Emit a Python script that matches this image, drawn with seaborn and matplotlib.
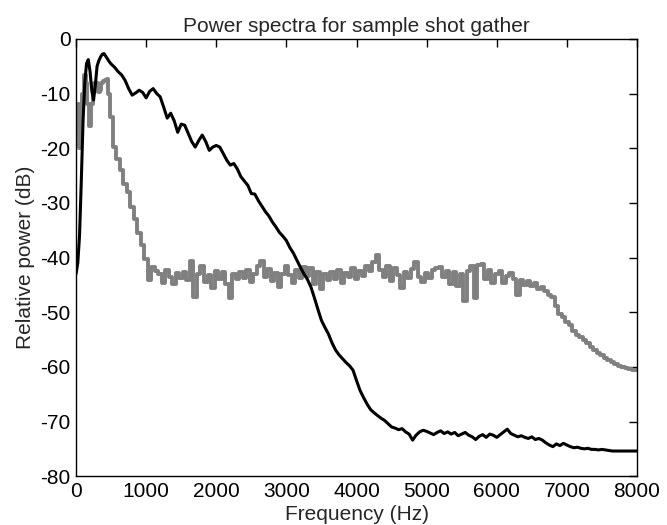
import numpy as np
import pandas as pd
import matplotlib
matplotlib.use("Agg")
import matplotlib.pyplot as plt
import seaborn as sns

# Frequency sampling grid (Hz): fine below 500 Hz, then every 50 Hz
freq = np.concatenate([np.arange(0, 501, 25), np.arange(550, 8001, 50)])

black_db = [
    # 0..500 step 25
    -43, -41, -36, -26, -15, -8, -4.5, -3.8, -6, -9.5, -11.2, -8.5, -5, -4, -3.3, -2.8, -2.7, -3.2, -3.7, -4.2, -4.6,
    # 550..8000 step 50
    -5.2, -6.0, -6.6, -7.6, -9.1, -10.3, -9.9, -9.4, -9.8, -10.8,
    -9.6, -9.1, -10.0, -10.6, -12.5, -14.5, -13.6, -15.0, -17.1, -15.6,
    -15.8, -17.3, -18.8, -19.8, -18.6, -17.6, -18.8, -20.4, -19.8, -19.5,
    -19.8, -21.0, -22.2, -23.1, -22.8, -23.8, -25.2, -26.0, -26.8, -28.3,
    -28.4, -29.6, -30.6, -31.6, -32.4, -33.5, -34.4, -35.4, -36.1, -36.9,
    -38.2, -39.2, -40.5, -41.8, -43.0, -44.0, -45.4, -47.4, -49.5, -51.5,
    -52.8, -54.0, -55.6, -56.9, -57.8, -58.5, -59.2, -59.8, -60.6, -62.5,
    -64.3, -65.6, -66.8, -67.8, -68.4, -68.9, -69.4, -69.8, -70.4, -71.0,
    -71.2, -71.5, -71.3, -71.9, -72.3, -73.4, -72.5, -71.9, -71.6, -71.8,
    -72.1, -72.4, -72.0, -71.7, -72.2, -71.9, -72.3, -72.0, -72.6, -72.3,
    -72.0, -72.5, -72.8, -73.3, -72.7, -72.4, -72.9, -72.3, -72.5, -72.9,
    -72.4, -71.9, -71.4, -72.2, -72.5, -72.8, -72.6, -72.9, -73.1, -72.8,
    -73.3, -73.1, -73.4, -73.9, -74.3, -74.6, -74.1, -74.4, -74.0, -74.3,
    -74.6, -74.8, -74.7, -74.9, -75.0, -74.9, -75.1, -75.1, -75.2, -75.1,
    -75.2, -75.3, -75.4, -75.4, -75.4, -75.4, -75.4, -75.4, -75.4, -75.4,
]

gray_db = [
    # 0..500 step 25
    -17, -12, -20, -13, -10, -6.6, -8, -12, -16, -12, -9.5, -8.1, -8, -9.7, -9.3, -8.1, -7.8, -7.5, -7.3, -10, -14.3,
    # 550..8000 step 50
    -19.8, -22.0, -24.0, -26.5, -28.0, -30.8, -33.0, -35.5, -37.8, -40.2,
    -44.2, -41.8, -42.5, -43.0, -44.6, -42.3, -43.6, -44.8, -42.9, -43.8,
    -42.6, -44.2, -40.6, -47.2, -43.0, -41.5, -44.5, -43.2, -45.6, -42.4,
    -43.9, -42.7, -44.8, -47.4, -43.1, -44.0, -42.6, -43.8, -42.2, -44.5,
    -43.0, -41.6, -40.6, -43.5, -42.1, -44.3, -42.8, -45.4, -43.0, -41.6,
    -43.2, -44.6, -42.3, -43.7, -41.8, -43.4, -42.0, -44.9, -42.6, -45.8,
    -43.1, -44.2, -42.7, -43.9, -42.2, -44.6, -42.8, -43.5, -41.9, -44.0,
    -42.4, -43.3, -41.6, -42.5, -40.8, -39.6, -42.2, -43.6, -41.5, -44.3,
    -42.0, -43.2, -45.5, -42.6, -43.8, -42.1, -40.9, -43.6, -44.5, -42.8,
    -43.7, -42.2, -41.9, -41.8, -43.5, -42.4, -44.9, -42.7, -45.3, -43.1,
    -48.0, -42.5, -41.6, -47.4, -41.3, -41.1, -43.9, -42.2, -44.6, -43.0,
    -42.5, -44.7, -43.3, -42.8, -44.0, -46.8, -44.2, -45.0, -44.3, -45.3,
    -44.6, -45.8, -45.4, -46.2, -46.8, -47.3, -48.8, -50.3, -50.8, -51.8,
    -52.4, -53.4, -54.1, -54.6, -55.1, -55.7, -56.3, -57.0, -57.4, -57.9,
    -58.4, -58.8, -59.2, -59.5, -59.8, -60.0, -60.2, -60.4, -60.5, -60.6,
]

x_ticks = [0, 1000, 2000, 3000, 4000, 5000, 6000, 7000, 8000]
y_ticks = [0, -10, -20, -30, -40, -50, -60, -70, -80]
title = "Power spectra for sample shot gather"
x_label = "Frequency (Hz)"
y_label = "Relative power (dB)"

df_gray = pd.DataFrame({"freq": freq, "db": gray_db})
df_black = pd.DataFrame({"freq": freq, "db": black_db})

sns.set_style("white")
plt.rcParams["font.family"] = ["Liberation Sans", "DejaVu Sans"]

fig = plt.figure(figsize=(6.67, 5.25), dpi=100)
ax = fig.add_axes([0.114, 0.093, 0.841, 0.833])

sns.lineplot(data=df_gray, x="freq", y="db", ax=ax, color="#808080",
             linewidth=2.8, drawstyle="steps-mid", estimator=None)
sns.lineplot(data=df_black, x="freq", y="db", ax=ax, color="black",
             linewidth=2.2, estimator=None)

ax.set_xlim(0, 8000)
ax.set_ylim(-80, 0)
ax.set_xticks(x_ticks)
ax.set_yticks(y_ticks)
ax.set_xticklabels([str(v) for v in x_ticks])
ax.set_yticklabels([str(v) for v in y_ticks])
ax.tick_params(direction="in", length=6, width=1, top=True, right=True,
               labelsize=15, pad=4, colors="black")
for s in ax.spines.values():
    s.set_visible(True)
    s.set_color("black")
    s.set_linewidth(1.0)
ax.set_title(title, fontsize=15, pad=5)
ax.set_xlabel(x_label, fontsize=15, labelpad=3)
ax.set_ylabel(y_label, fontsize=15, labelpad=4)

fig.savefig("out.png", dpi=100)
